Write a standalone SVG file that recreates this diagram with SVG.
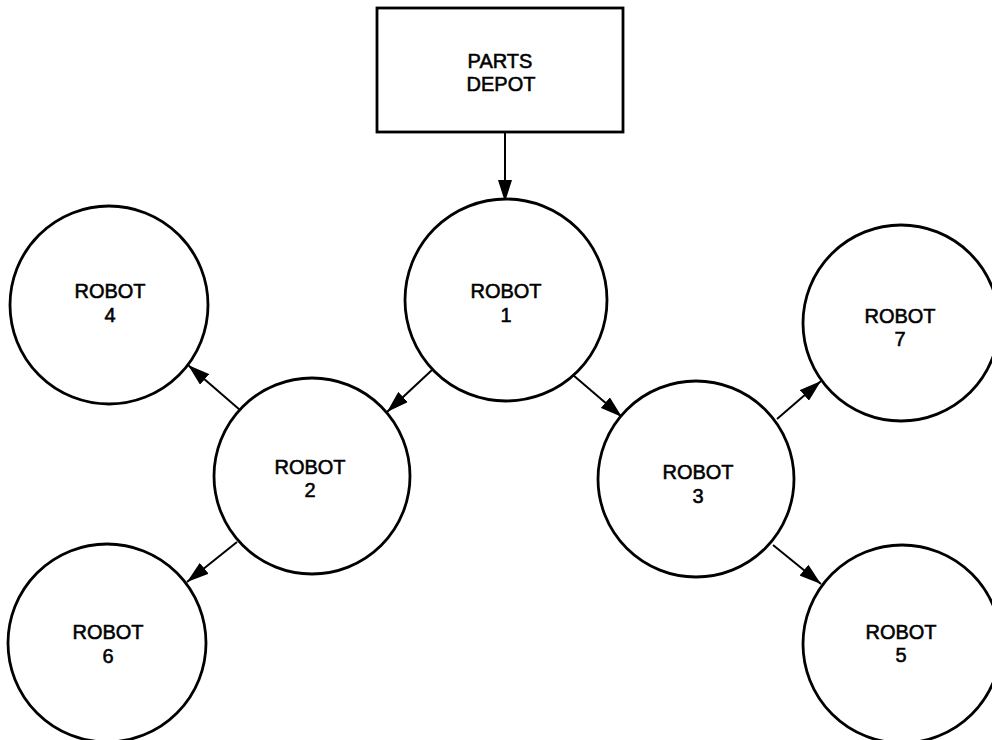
<svg xmlns="http://www.w3.org/2000/svg" width="992" height="740" viewBox="0 0 992 740">
<style>
.node{fill:#fff;stroke:#000;stroke-width:2.8}
.lbl{font-family:"Liberation Sans",Arial,sans-serif;font-size:20px;fill:#000;stroke:#000;stroke-width:0.55;text-anchor:middle}
.conn{stroke:#000;stroke-width:2;fill:none;marker-end:url(#arr)}
</style>
<defs>
<marker id="arr" markerUnits="userSpaceOnUse" markerWidth="22" markerHeight="14" viewBox="0 0 22 14" refX="22" refY="7" orient="auto">
<path d="M0,0 L22,7 L0,14 Z" fill="#000"/>
</marker>
</defs>
<rect width="992" height="740" fill="#fff"/>
<g id="connectors">
<line class="conn" x1="505" y1="132" x2="505" y2="202"/>
<line class="conn" x1="432" y1="370" x2="387" y2="412"/>
<line class="conn" x1="573" y1="375" x2="622" y2="417"/>
<line class="conn" x1="240" y1="410" x2="188" y2="365"/>
<line class="conn" x1="237" y1="542" x2="187" y2="582"/>
<line class="conn" x1="777" y1="419" x2="821" y2="381"/>
<line class="conn" x1="773" y1="545" x2="821" y2="584"/>
</g>
<g id="parts-depot">
<rect class="node" x="377" y="8" width="246" height="124"/>
<text class="lbl" x="500" y="68">PARTS</text>
<text class="lbl" x="501" y="91">DEPOT</text>
</g>
<g id="robot1">
<circle class="node" cx="506" cy="300" r="101"/>
<text class="lbl" x="506" y="298">ROBOT</text>
<text class="lbl" x="506" y="322">1</text>
</g>
<g id="robot2">
<circle class="node" cx="312" cy="476" r="98"/>
<text class="lbl" x="310" y="474">ROBOT</text>
<text class="lbl" x="310" y="497">2</text>
</g>
<g id="robot3">
<circle class="node" cx="696" cy="479" r="98"/>
<text class="lbl" x="698" y="479">ROBOT</text>
<text class="lbl" x="698" y="503">3</text>
</g>
<g id="robot4">
<circle class="node" cx="109" cy="305" r="99"/>
<text class="lbl" x="110" y="298">ROBOT</text>
<text class="lbl" x="110" y="322">4</text>
</g>
<g id="robot5">
<circle class="node" cx="902" cy="644" r="99"/>
<text class="lbl" x="901" y="639">ROBOT</text>
<text class="lbl" x="901" y="662">5</text>
</g>
<g id="robot6">
<circle class="node" cx="107" cy="643" r="99"/>
<text class="lbl" x="108" y="639">ROBOT</text>
<text class="lbl" x="108" y="663">6</text>
</g>
<g id="robot7">
<circle class="node" cx="901" cy="323" r="98"/>
<text class="lbl" x="900" y="323">ROBOT</text>
<text class="lbl" x="900" y="346">7</text>
</g>
</svg>
